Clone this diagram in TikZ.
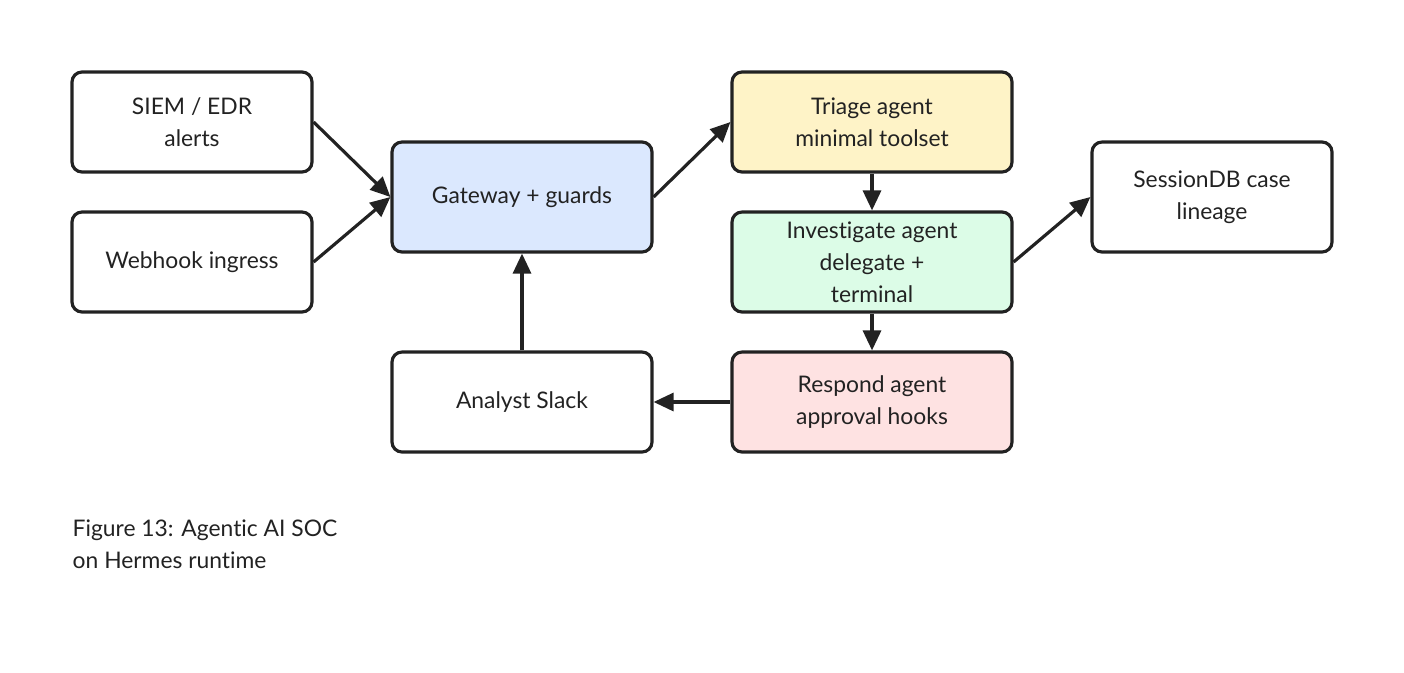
\documentclass[tikz,border=0pt]{standalone}
\usepackage{fontspec}
\setmainfont{Lato}[Ligatures=NoCommon]
\usetikzlibrary{arrows.meta}

\definecolor{gwblue}{HTML}{DBE8FE}
\definecolor{triyellow}{HTML}{FEF3C7}
\definecolor{invgreen}{HTML}{DCFCE7}
\definecolor{respink}{HTML}{FEE2E2}
\definecolor{ink}{HTML}{222222}

\begin{document}
\begin{tikzpicture}[
    box/.style={draw=ink, line width=0.9pt, rounded corners=0.1cm, minimum width=2.4cm, minimum height=1cm, inner sep=0pt, align=center, text=ink, font=\fontsize{6.5}{9.1}\selectfont},
    flow/.style={-{Triangle[length=0.2cm, width=0.18cm]}, line width=0.9pt, draw=ink}]
    \useasboundingbox (0,0) rectangle (14.04,-6.72);

    % sources
    \node[box] (siem) at (1.92,-1.22) {SIEM / EDR\\alerts};
    \node[box] (webhook) at (1.92,-2.62) {Webhook ingress};

    % gateway and agents
    \node[box, fill=gwblue, minimum width=2.6cm, minimum height=1.1cm] (gateway) at (5.22,-1.97) {Gateway + guards};
    \node[box, fill=triyellow, minimum width=2.8cm] (triage) at (8.72,-1.22) {Triage agent\\minimal toolset};
    \node[box, fill=invgreen, minimum width=2.8cm] (investigate) at (8.72,-2.62) {Investigate agent\\delegate +\\terminal};
    \node[box, fill=respink, minimum width=2.8cm] (respond) at (8.72,-4.02) {Respond agent\\approval hooks};
    \node[box, minimum width=2.6cm] (analyst) at (5.22,-4.02) {Analyst Slack};
    \node[box, minimum height=1.1cm] (sessiondb) at (12.12,-1.97) {SessionDB case\\lineage};

    \draw[flow] (siem.east) -- (gateway.west);
    \draw[flow] (webhook.east) -- (gateway.west);
    \draw[flow] (gateway.east) -- (triage.west);
    \draw[flow] (triage) -- (investigate);
    \draw[flow] (investigate) -- (respond);
    \draw[flow] (investigate.east) -- (sessiondb.west);
    \draw[flow] (respond) -- (analyst);
    \draw[flow] (analyst) -- (gateway);

    % caption
    \node[anchor=north west, align=left, inner sep=0pt, text=ink, font=\fontsize{6.5}{9.1}\selectfont] (caption) at (0.72,-5.19) {Figure 13: Agentic AI SOC\\on Hermes runtime};
\end{tikzpicture}
\end{document}
